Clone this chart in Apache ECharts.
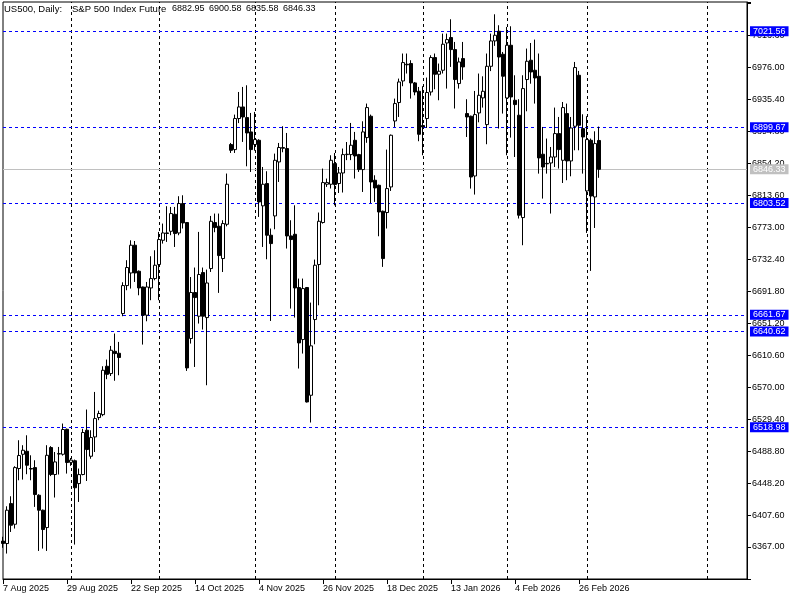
<!DOCTYPE html>
<html>
<head>
<meta charset="utf-8">
<script src="https://cdn.jsdelivr.net/npm/echarts@6/dist/echarts.min.js"></script>
<style>
  html, body { margin: 0; padding: 0; background: #fff; }
  #chart { width: 800px; height: 600px; }
</style>
</head>
<body>
<div id="chart"></div>
<script>
// daily bars, 7 Aug 2025 .. 5 Mar 2026 (one bar every 16 slots gets a date label)
const tickLabels = ['7 Aug 2025', '29 Aug 2025', '22 Sep 2025', '14 Oct 2025', '4 Nov 2025',
  '26 Nov 2025', '18 Dec 2025', '13 Jan 2026', '4 Feb 2026', '26 Feb 2026']

const opens = [
  6374.5, 6371.4, 6422.1, 6395.9, 6466.6, 6484.7, 6488.5, 6466.6, 6467.8, 6432.7,
  6413.7, 6391.7, 6493.2, 6459.0, 6485.5, 6484.7, 6516.4, 6474.4, 6476.5, 6447.5,
  6459.0, 6515.2, 6482.2, 6506.7, 6531.3, 6535.0, 6596.4, 6587.1, 6615.4, 6612.9,
  6663.3, 6698.8, 6714.8, 6750.0, 6717.0, 6697.0, 6661.2, 6695.8, 6707.7, 6725.5,
  6756.3, 6765.6, 6767.7, 6789.3, 6765.6, 6802.9, 6778.8, 6631.6, 6690.0, 6659.9,
  6715.3, 6658.2, 6720.4, 6778.8, 6774.1, 6733.1, 6776.6, 6877.8, 6871.4, 6910.8,
  6925.5, 6912.0, 6893.8, 6877.8, 6883.2, 6800.0, 6828.3, 6762.7, 6787.2, 6855.7,
  6873.0, 6872.7, 6761.8, 6763.9, 6696.3, 6630.3, 6696.3, 6559.6, 6655.7, 6725.5,
  6778.8, 6827.4, 6827.4, 6853.6, 6828.3, 6841.7, 6865.0, 6865.0, 6883.2, 6865.0,
  6846.0, 6886.6, 6913.7, 6832.5, 6826.1, 6793.1, 6791.5, 6824.0, 6907.7, 6931.1,
  6958.5, 6979.7, 6980.6, 6956.0, 6945.4, 6901.9, 6910.8, 6944.5, 6988.2, 6967.0,
  6972.1, 7006.7, 7013.6, 6998.3, 6955.2, 6986.9, 6917.1, 6913.7, 6837.9, 6917.9,
  6937.0, 6903.1, 6977.1, 7009.3, 7021.6, 6992.4, 6936.9, 7003.8, 6934.0, 6915.0,
  6785.1, 6960.3, 6984.8, 6972.1, 6964.4, 6865.5, 6853.9, 6854.4, 6862.0, 6891.7,
  6857.8, 6917.1, 6857.0, 6901.0, 6965.7, 6898.0, 6818.9, 6883.2, 6811.3, 6882.95
]
const closes = [
  6371.5, 6413.7, 6394.6, 6467.8, 6483.1, 6489.8, 6470.8, 6466.0, 6433.6, 6413.7,
  6389.2, 6483.4, 6459.0, 6475.0, 6485.0, 6516.1, 6474.2, 6477.3, 6442.2, 6458.9,
  6512.3, 6490.7, 6505.9, 6530.0, 6536.4, 6591.3, 6586.1, 6616.7, 6612.5, 6607.5,
  6698.8, 6721.7, 6750.0, 6714.8, 6695.8, 6661.2, 6697.0, 6707.7, 6724.6, 6757.2,
  6765.6, 6765.0, 6790.2, 6764.8, 6802.9, 6778.3, 6594.3, 6690.0, 6683.6, 6712.8,
  6659.9, 6702.1, 6780.4, 6772.4, 6736.9, 6777.5, 6827.4, 6870.5, 6910.8, 6925.5,
  6912.8, 6892.5, 6871.4, 6884.1, 6804.9, 6827.4, 6762.7, 6752.1, 6857.8, 6874.0,
  6874.0, 6761.8, 6757.2, 6695.8, 6626.0, 6695.0, 6551.1, 6622.3, 6724.6, 6780.4,
  6829.5, 6829.5, 6857.8, 6827.0, 6841.7, 6865.0, 6865.5, 6876.9, 6863.3, 6846.0,
  6893.8, 6924.7, 6830.3, 6822.7, 6792.2, 6733.1, 6821.9, 6889.6, 6929.8, 6957.2,
  6981.8, 6979.0, 6956.0, 6944.5, 6890.8, 6900.1, 6943.8, 6988.2, 6967.0, 6970.8,
  7005.1, 7011.0, 6998.3, 6960.3, 6982.6, 6976.3, 6912.8, 6836.6, 6915.8, 6940.3,
  6945.4, 6977.1, 7009.3, 7016.5, 6988.9, 6964.5, 7003.8, 6938.2, 6928.5, 6788.1,
  6948.8, 6983.5, 6969.9, 6962.3, 6860.8, 6849.3, 6853.3, 6862.0, 6891.7, 6871.4,
  6924.7, 6857.0, 6898.8, 6975.5, 6902.3, 6887.4, 6884.1, 6812.5, 6879.0, 6846.33
]
const lows = [
  6366.0, 6358.7, 6386.1, 6390.4, 6451.7, 6452.6, 6459.4, 6451.7, 6417.9, 6362.0,
  6365.0, 6362.0, 6457.0, 6429.8, 6459.0, 6483.0, 6460.2, 6470.0, 6370.1, 6424.2,
  6458.0, 6450.8, 6479.0, 6487.6, 6528.0, 6533.0, 6580.0, 6584.0, 6578.0, 6585.0,
  6659.9, 6692.9, 6695.0, 6703.4, 6686.5, 6623.9, 6653.5, 6680.2, 6705.5, 6680.2,
  6752.1, 6754.2, 6762.7, 6747.8, 6762.7, 6771.2, 6590.5, 6625.2, 6595.5, 6650.6,
  6643.0, 6572.3, 6716.1, 6766.5, 6689.5, 6716.0, 6774.0, 6867.1, 6867.1, 6905.0,
  6881.1, 6850.2, 6843.0, 6870.0, 6785.9, 6747.8, 6732.2, 6653.9, 6770.3, 6830.3,
  6868.0, 6745.8, 6669.6, 6658.2, 6593.5, 6612.5, 6550.4, 6525.0, 6624.3, 6673.8,
  6777.5, 6824.0, 6822.0, 6800.7, 6816.3, 6816.9, 6858.0, 6858.0, 6834.6, 6843.0,
  6817.6, 6880.0, 6803.6, 6805.0, 6761.4, 6722.5, 6771.2, 6818.9, 6900.1, 6912.8,
  6951.8, 6967.9, 6936.1, 6940.3, 6882.0, 6864.2, 6898.8, 6940.0, 6948.0, 6934.0,
  6968.0, 6948.8, 6976.3, 6923.5, 6948.8, 6960.0, 6887.4, 6821.9, 6814.3, 6906.0,
  6924.7, 6878.2, 6971.0, 7003.0, 6898.1, 6917.1, 6864.2, 6886.6, 6862.0, 6783.9,
  6750.0, 6920.0, 6955.0, 6929.8, 6840.9, 6809.2, 6840.9, 6790.2, 6849.3, 6847.3,
  6829.0, 6832.5, 6837.5, 6870.5, 6870.5, 6840.9, 6765.6, 6717.4, 6771.9, 6835.58
]
const highs = [
  6380.0, 6418.7, 6431.4, 6469.5, 6502.5, 6496.2, 6508.8, 6483.4, 6477.1, 6434.0,
  6414.5, 6496.2, 6495.0, 6487.6, 6494.0, 6523.7, 6517.3, 6480.0, 6478.0, 6466.6,
  6517.0, 6541.5, 6515.2, 6563.8, 6540.0, 6596.4, 6604.9, 6622.2, 6637.9, 6627.3,
  6703.0, 6731.0, 6756.3, 6755.4, 6718.0, 6697.5, 6703.4, 6736.0, 6743.6, 6766.9,
  6777.5, 6799.5, 6798.6, 6798.6, 6812.2, 6813.4, 6779.5, 6709.7, 6721.7, 6766.9,
  6721.7, 6719.1, 6787.2, 6790.2, 6790.2, 6781.7, 6841.0, 6879.8, 6915.8, 6944.5,
  6950.9, 6953.0, 6917.9, 6919.2, 6884.5, 6849.3, 6843.9, 6771.2, 6866.3, 6879.8,
  6901.0, 6892.5, 6781.7, 6800.7, 6707.7, 6707.7, 6697.0, 6677.2, 6731.8, 6791.5,
  6847.3, 6834.6, 6864.2, 6867.1, 6849.3, 6872.7, 6881.0, 6905.2, 6893.8, 6866.0,
  6907.3, 6929.8, 6915.8, 6838.8, 6827.0, 6794.0, 6871.4, 6890.5, 6936.1, 6961.5,
  6993.3, 6993.3, 6984.8, 6957.2, 6950.9, 6951.8, 6962.8, 6991.1, 6993.3, 6980.6,
  7018.6, 7018.6, 7036.8, 7008.0, 6988.2, 7008.0, 6935.3, 6914.5, 6945.8, 6967.9,
  6964.4, 6993.3, 7018.6, 7043.1, 7029.2, 6995.3, 7027.0, 7027.9, 6965.7, 6935.3,
  6965.7, 6999.6, 7006.7, 7011.0, 6993.3, 6900.1, 6885.4, 6874.7, 6924.7, 6912.8,
  6931.8, 6929.8, 6912.8, 6982.6, 6971.2, 6916.2, 6913.7, 6885.4, 6894.6, 6900.58
]

// user drawn horizontal levels, current bid, month separators (bar index)
const levels = [7021.56, 6899.67, 6803.52, 6661.67, 6640.62, 6518.98]
const bid = 6846.33
const monthStarts = [17, 39, 63, 83, 105, 126, 146, 176]

// chart header, in the pieces the terminal prints (last bar O H L C)
const headerParts = ['US500, Daily:', 'S&P 500', 'Index Future', '6882.95', '6900.58', '6835.58', '6846.33']
const headerX = [4, 72, 113, 172, 209, 246, 283]

const slotCount = 187 // visible bars + empty space on the right
const categories = Array.from({ length: slotCount }, (_, i) => String(i))
const candles = opens.map((o, i) => [o, closes[i], lows[i], highs[i]])

const FONT = 'Liberation Sans'
const hasLabel = (i) => i % 16 === 0 && i / 16 < tickLabels.length

function priceTag(bg) {
  return {
    show: true, position: 'end', distance: 3,
    formatter: (p) => Number(p.value).toFixed(2),
    backgroundColor: bg, color: '#fff',
    fontSize: 9, fontFamily: FONT, padding: [1, 3, 0, 3],
  }
}

function lineSeries(markData, lineStyle, label) {
  return {
    type: 'line',
    data: [],
    silent: true,
    markLine: {
      silent: true,
      symbol: ['none', 'none'],
      lineStyle,
      label,
      emphasis: { disabled: true },
      data: markData,
    },
  }
}

const chart = echarts.init(document.getElementById('chart'), null, { renderer: 'canvas' })

chart.setOption({
  animation: false,
  backgroundColor: '#fff',
  graphic: headerParts.map((t, i) => ({
    type: 'text', left: headerX[i], top: 4,
    style: { text: t, fill: '#000', font: `${i < 3 ? 9.5 : 9}px "${FONT}"` },
  })),
  grid: { left: 2, right: 53, top: 2, bottom: 21, show: true, borderColor: '#000', borderWidth: 1 },
  xAxis: {
    type: 'category',
    data: categories,
    boundaryGap: false,
    axisLine: { lineStyle: { color: '#000' } },
    axisTick: { interval: (i) => hasLabel(i), length: 5, lineStyle: { color: '#000' } },
    axisLabel: {
      interval: (i) => hasLabel(i),
      formatter: (v, i) => tickLabels[i / 16] || '',
      align: 'left', color: '#000', fontSize: 9, fontFamily: FONT, margin: 5,
    },
    splitLine: { show: false },
  },
  yAxis: {
    type: 'value',
    position: 'right',
    min: 6326.4,
    max: 7058.7,
    interval: 40.6,
    axisLine: { show: true, lineStyle: { color: '#000' } },
    axisTick: { show: true, length: 4, lineStyle: { color: '#000' } },
    axisLabel: {
      color: '#000', fontSize: 9, fontFamily: FONT, margin: 5,
      formatter: (v) => (v < 6340 || v > 7040 ? '' : v.toFixed(2)),
    },
    splitLine: { show: false },
  },
  series: [
    lineSeries(monthStarts.map((i) => ({ xAxis: i })),
      { color: '#000', type: [3, 3], width: 1 }, { show: false }),
    lineSeries(levels.map((v) => ({ yAxis: v })),
      { color: '#0000ff', type: [3, 3], width: 1 }, priceTag('#0000ff')),
    lineSeries([{ yAxis: bid }],
      { color: '#c0c0c0', type: 'solid', width: 1 }, priceTag('#c0c0c0')),
    {
      type: 'candlestick',
      data: candles,
      barWidth: 3,
      z: 5,
      itemStyle: { color: '#fff', color0: '#000', borderColor: '#000', borderColor0: '#000', borderWidth: 1 },
    },
  ],
})
</script>
</body>
</html>
